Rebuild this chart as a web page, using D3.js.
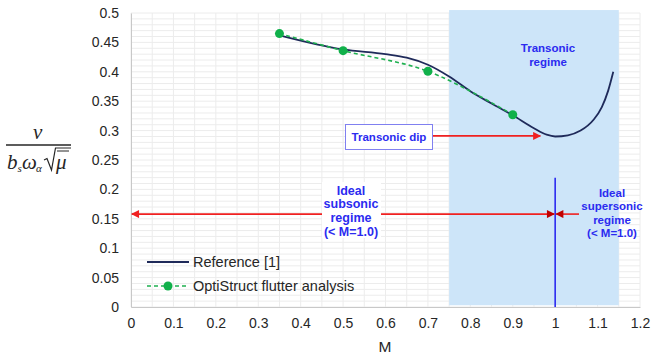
<!DOCTYPE html>
<html>
<head>
<meta charset="utf-8">
<script src="https://cdn.jsdelivr.net/npm/d3@7"></script>
<style>
  body { margin: 0; background: #fff; }
  text { font-family: "Liberation Sans", Arial, sans-serif; }
</style>
</head>
<body>
<div id="chart"></div>
<script>
// taille de la fenêtre
const width = 655;
const height = 361;

// --- données ---
const refM = [0.35, 0.5, 0.6, 0.65, 0.7, 0.75, 0.8, 0.85, 0.9, 0.95, 0.98, 1.0, 1.03, 1.06, 1.09, 1.11, 1.125, 1.137];
const refV = [0.462, 0.438, 0.430, 0.424, 0.412, 0.392, 0.367, 0.346, 0.326, 0.304, 0.293, 0.290, 0.292, 0.300, 0.318, 0.340, 0.368, 0.400];

const optM = [0.35, 0.5, 0.7, 0.9];
const optV = [0.465, 0.436, 0.401, 0.327];

const seriesNames = ["Reference [1]", "OptiStruct flutter analysis"];

const transonicBand = [0.75, 1.15];

// zone du graphique
const x = d3.scaleLinear().domain([0, 1.2]).range([131, 640]);
const y = d3.scaleLinear().domain([0, 0.5]).range([307, 13]);

const blue = "#2b2bf0";
const red = "#f02020";
const ink = "#262626";

const svg = d3.select("#chart").append("svg")
    .attr("width", width)
    .attr("height", height);

const defs = svg.append("defs");
["arrowRed", "arrowDark"].forEach((id, i) => {
    defs.append("marker")
        .attr("id", id)
        .attr("viewBox", "0 0 10 10")
        .attr("refX", 9).attr("refY", 5)
        .attr("markerWidth", 7).attr("markerHeight", 5)
        .attr("orient", "auto-start-reverse")
        .append("path")
        .attr("d", "M0,0 L10,5 L0,10 z")
        .attr("fill", i === 0 ? red : "#c00000");
});

// grille secondaire
const g = svg.append("g");
g.selectAll(".hgrid")
    .data(d3.range(0, 51).map(i => i / 100))
    .join("line")
    .attr("x1", x(0)).attr("x2", x(1.2))
    .attr("y1", d => y(d)).attr("y2", d => y(d))
    .attr("stroke", "#ececec").attr("stroke-width", 1);
g.selectAll(".vgrid")
    .data(d3.range(0, 25).map(i => i * 0.05))
    .join("line")
    .attr("x1", d => x(d)).attr("x2", d => x(d))
    .attr("y1", y(0)).attr("y2", y(0.5))
    .attr("stroke", "#ececec").attr("stroke-width", 1);

// bande transsonique
svg.append("rect")
    .attr("x", x(transonicBand[0]))
    .attr("y", y(0.505))
    .attr("width", x(transonicBand[1]) - x(transonicBand[0]))
    .attr("height", y(0.003) - y(0.505))
    .attr("fill", "#cde5f9");

// axes
const xAxis = d3.axisBottom(x).tickValues(d3.range(0, 13).map(i => i / 10)).tickSize(0).tickPadding(11)
    .tickFormat(d => d3.format("~g")(+d.toFixed(1)));
const yAxis = d3.axisLeft(y).tickValues(d3.range(0, 11).map(i => i / 20)).tickSize(0).tickPadding(12)
    .tickFormat(d => d3.format("~g")(+d.toFixed(2)));

const gx = svg.append("g").attr("transform", `translate(0,${y(0)})`).call(xAxis);
const gy = svg.append("g").attr("transform", `translate(${x(0)},0)`).call(yAxis);
[gx, gy].forEach(a => {
    a.select(".domain").attr("stroke", "#c8c8c8");
    a.selectAll("text").attr("font-size", 14).attr("fill", ink)
        .style("font-family", '"Liberation Sans", Arial, sans-serif');
});

// ligne M = 1
svg.append("line")
    .attr("x1", x(1)).attr("x2", x(1))
    .attr("y1", y(0.22)).attr("y2", y(0))
    .attr("stroke", blue).attr("stroke-width", 1.6);

// courbes
svg.append("path")
    .datum(d3.zip(refM, refV))
    .attr("d", d3.line().x(d => x(d[0])).y(d => y(d[1])).curve(d3.curveMonotoneX))
    .attr("fill", "none").attr("stroke", "#1f2a5a").attr("stroke-width", 1.8);

svg.append("path")
    .datum(d3.zip(optM, optV))
    .attr("d", d3.line().x(d => x(d[0])).y(d => y(d[1])).curve(d3.curveCatmullRom.alpha(0.5)))
    .attr("fill", "none").attr("stroke", "#1fb050").attr("stroke-width", 1.6)
    .attr("stroke-dasharray", "4,3");

svg.selectAll(".pt")
    .data(d3.zip(optM, optV))
    .join("circle")
    .attr("cx", d => x(d[0])).attr("cy", d => y(d[1]))
    .attr("r", 4.5).attr("fill", "#10b04a");

// annotations
svg.append("text")
    .attr("text-anchor", "middle")
    .attr("font-size", 11.5).attr("font-weight", "bold").attr("fill", blue)
    .selectAll("tspan").data(["Transonic", "regime"]).join("tspan")
    .attr("x", 548).attr("y", (d, i) => 52 + i * 13.5).text(d => d);

// boîte "Transonic dip"
svg.append("rect")
    .attr("x", 345.5).attr("y", 124.5).attr("width", 87).attr("height", 25)
    .attr("fill", "#fff").attr("stroke", "#8080f0").attr("stroke-width", 1);
svg.append("text")
    .attr("x", 389).attr("y", 141).attr("text-anchor", "middle")
    .attr("font-size", 11.5).attr("font-weight", "bold").attr("fill", blue)
    .text("Transonic dip");
svg.append("line")
    .attr("x1", 433).attr("x2", x(0.965))
    .attr("y1", y(0.291)).attr("y2", y(0.291))
    .attr("stroke", red).attr("stroke-width", 1.6)
    .attr("marker-end", "url(#arrowRed)");

// flèches sub / supersonique
const yArrow = y(0.158);
svg.append("line")
    .attr("x1", 322).attr("x2", x(0.002))
    .attr("y1", yArrow).attr("y2", yArrow)
    .attr("stroke", red).attr("stroke-width", 1.6)
    .attr("marker-end", "url(#arrowRed)");
svg.append("line")
    .attr("x1", 381).attr("x2", x(1) - 1)
    .attr("y1", yArrow).attr("y2", yArrow)
    .attr("stroke", red).attr("stroke-width", 1.6)
    .attr("marker-end", "url(#arrowDark)");
svg.append("line")
    .attr("x1", 579).attr("x2", x(1) + 1)
    .attr("y1", yArrow).attr("y2", yArrow)
    .attr("stroke", red).attr("stroke-width", 1.6)
    .attr("marker-end", "url(#arrowDark)");

// zone de texte blanche (subsonique)
svg.append("rect")
    .attr("x", 322).attr("y", 182).attr("width", 59).attr("height", 56)
    .attr("fill", "#fff");
svg.append("text")
    .attr("text-anchor", "middle")
    .attr("font-size", 12.5).attr("font-weight", "bold").attr("fill", blue)
    .selectAll("tspan").data(["Ideal", "subsonic", "regime", "(< M=1.0)"]).join("tspan")
    .attr("x", 351).attr("y", (d, i) => 194.5 + i * 13.8).text(d => d);

svg.append("text")
    .attr("text-anchor", "middle")
    .attr("font-size", 11.5).attr("font-weight", "bold").attr("fill", blue)
    .selectAll("tspan").data(["Ideal", "supersonic", "regime", "(< M=1.0)"]).join("tspan")
    .attr("x", 612).attr("y", (d, i) => 196.5 + i * 13.6).text(d => d);

// légende
const leg = svg.append("g");
leg.append("line").attr("x1", 147).attr("x2", 189).attr("y1", 262).attr("y2", 262)
    .attr("stroke", "#1f2a5a").attr("stroke-width", 1.8);
leg.append("line").attr("x1", 147).attr("x2", 189).attr("y1", 286).attr("y2", 286)
    .attr("stroke", "#1fb050").attr("stroke-width", 1.6).attr("stroke-dasharray", "4,3");
leg.append("circle").attr("cx", 168).attr("cy", 286).attr("r", 4.5).attr("fill", "#10b04a");
leg.selectAll(".lt").data(seriesNames).join("text")
    .attr("x", 193).attr("y", (d, i) => 267 + i * 24)
    .attr("font-size", 14.5).attr("fill", ink).text(d => d);

// titres des axes
svg.append("text").attr("x", 385).attr("y", 352).attr("text-anchor", "middle")
    .attr("font-size", 15.5).attr("fill", ink).text("M");

// titre Y : v / (b_s ω_α √μ)
const serif = '"Liberation Serif", "DejaVu Serif", serif';
const yt = svg.append("g");
const glyph = (txt, gx0, gy0, size) => yt.append("text")
    .attr("x", gx0).attr("y", gy0)
    .attr("font-size", size).attr("font-style", "italic").attr("fill", ink)
    .style("font-family", serif).text(txt);

glyph("v", 33, 139, 21);
yt.append("line").attr("x1", 6).attr("x2", 71).attr("y1", 145).attr("y2", 145)
    .attr("stroke", ink).attr("stroke-width", 1.3);
glyph("b", 7, 169, 21);
glyph("s", 17.5, 172, 11);
glyph("ω", 22, 169, 21);
glyph("α", 36, 172, 11);
glyph("μ", 56, 169, 21);
// radical
yt.append("path")
    .attr("d", "M44,160 L47,158.5 L51.5,170 L55.5,148 L71,148")
    .attr("fill", "none").attr("stroke", ink).attr("stroke-width", 1.2);
yt.append("line").attr("x1", 57).attr("x2", 69).attr("y1", 151).attr("y2", 151)
    .attr("stroke", ink).attr("stroke-width", 1);
</script>
</body>
</html>
